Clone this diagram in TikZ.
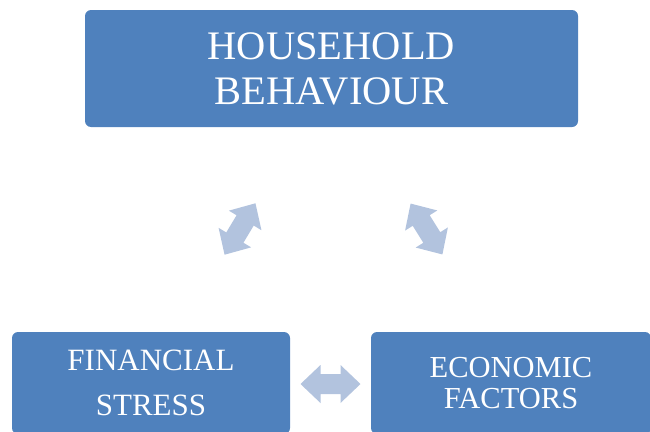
\documentclass[tikz,border=0pt]{standalone}
\usepackage{fontspec}
\setmainfont{Liberation Serif}
\usetikzlibrary{positioning}
\definecolor{box_blue}{RGB}{79,129,189}
\definecolor{arrow_blue}{RGB}{178,195,222}

\begin{document}
\begin{tikzpicture}[
    x=1pt, y=-1pt,
    box/.style={fill=box_blue, rounded corners=6pt, text=white,
                align=center, inner sep=0pt},
    dblarr/.pic={
        \fill[arrow_blue] (-30,0) -- (-10,-19) -- (-10,-10) -- (10,-10)
            -- (10,-19) -- (30,0) -- (10,19) -- (10,10) -- (-10,10)
            -- (-10,19) -- cycle;
    },
]
\useasboundingbox (0,0) rectangle (650,431);

\node[box, minimum width=493pt, minimum height=117pt,
      font=\fontsize{40.5}{45}\selectfont] (house) at (331.5,68.5) {HOUSEHOLD\\BEHAVIOUR};
\node[box, minimum width=278pt, minimum height=102pt,
      font=\fontsize{31}{44.3}\selectfont] (fin) at (151,383) {FINANCIAL\\STRESS};
\node[box, minimum width=280pt, minimum height=102pt,
      font=\fontsize{30.5}{31.7}\selectfont] (econ) at (511,383) {ECONOMIC\\FACTORS};

% two-headed block arrows between the boxes
\pic[rotate=59]  (arrL) at (240,229) {dblarr};
\pic[rotate=-58] (arrR) at (426.5,229) {dblarr};
\pic             (arrB) at (330.5,384) {dblarr};
\end{tikzpicture}
\end{document}
